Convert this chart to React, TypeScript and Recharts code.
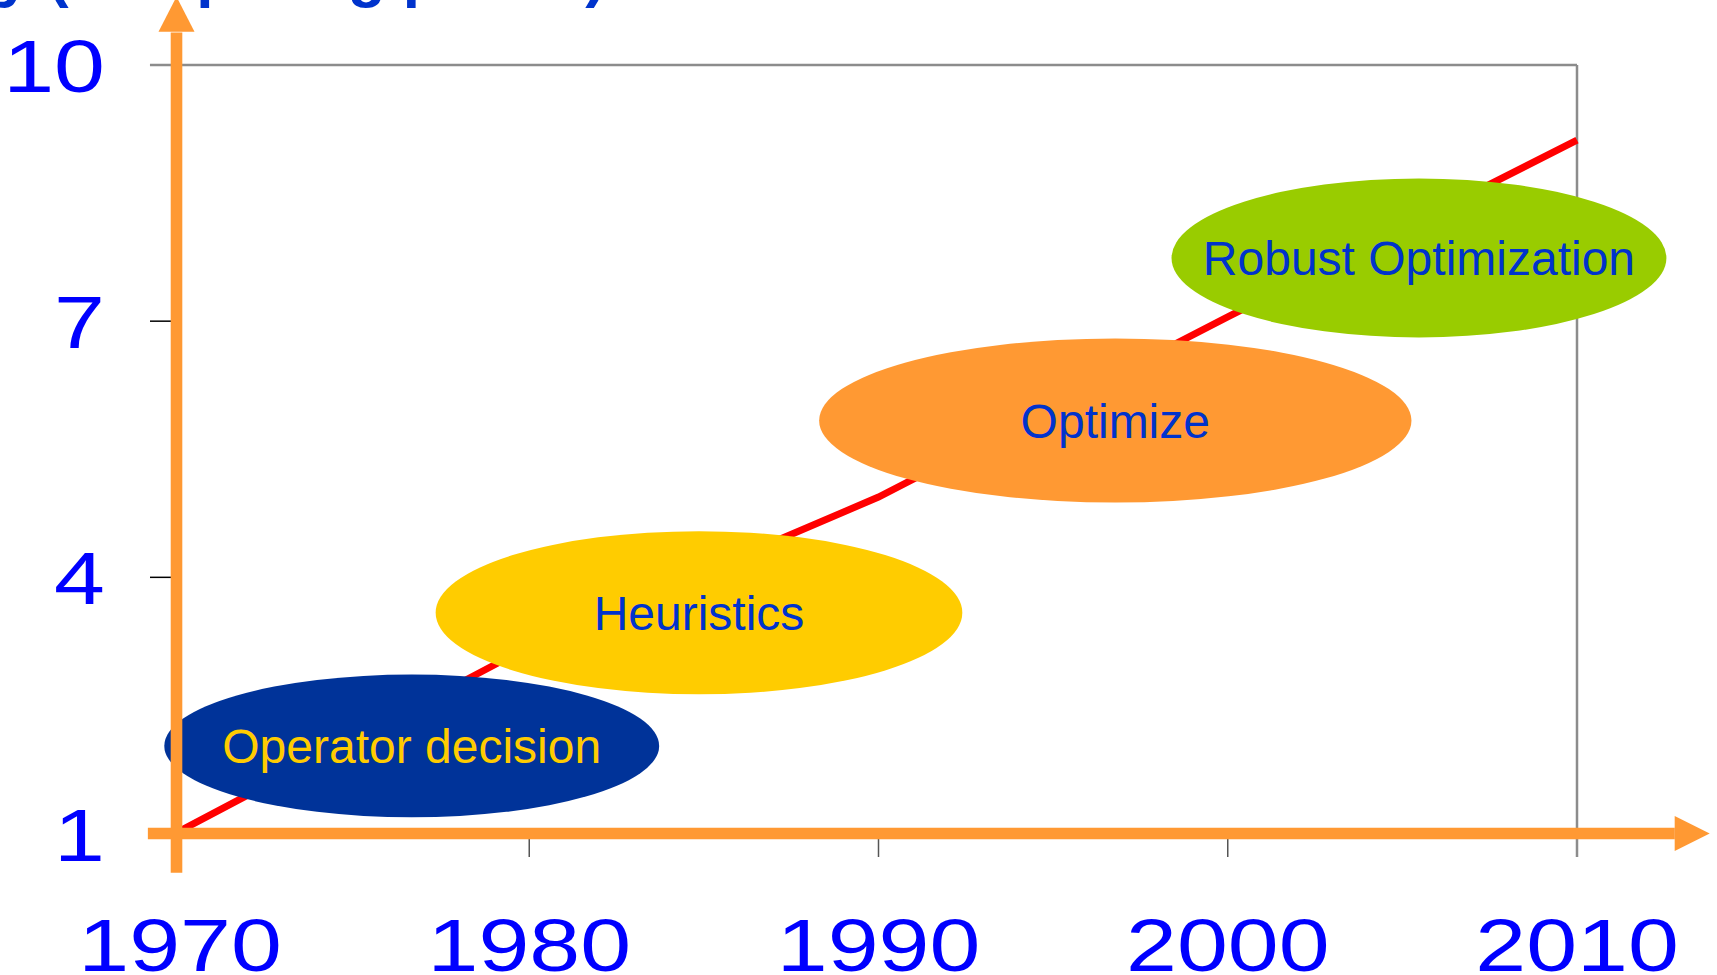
import React from "react";
import {
  LineChart,
  Line,
  XAxis,
  YAxis,
  ReferenceLine,
  ReferenceArea,
  ReferenceDot,
} from "recharts";

// ─── Data ─────────────────────────────────────────────────────────────────────

const years = [1970, 1980, 1990, 2000, 2010];
const capability = [1.03, 3.19, 4.94, 7.05, 9.12];
const yTicks = [1, 4, 7, 10];
const xTicks = [1970, 1980, 1990, 2000, 2010];

// decision-making phases: period (years) and span on the value axis
const phaseNames = ["Operator decision", "Heuristics", "Optimize", "Robust Optimization"];
const phaseFrom = [1969.55, 1977.32, 1988.3, 1998.39];
const phaseTo = [1983.72, 1992.4, 2005.26, 2012.56];
const phaseLow = [1.19, 2.63, 4.875, 6.81];
const phaseHigh = [2.862, 4.541, 6.798, 8.671];
const phaseFill = ["#003399", "#FFCC00", "#FF9933", "#99CC00"];
const phaseText = ["#FFCC00", "#0033CC", "#0033CC", "#0033CC"];

const chartData = years.map((year, i) => ({ year, value: capability[i] }));

const FONT = "'Liberation Sans', Arial, Helvetica, sans-serif";
const ORANGE = "#FF9933";
const FRAME = "#8c8c8c";

// ─── Ticks ────────────────────────────────────────────────────────────────────

function XTick({ x, y, payload }: any) {
  return (
    <text
      transform={`translate(${x},${y + 53}) scale(1.22,1)`}
      textAnchor="middle"
      fontSize={75}
      fontFamily={FONT}
      fill="#0000FF"
    >
      {payload.value}
    </text>
  );
}

function YTick({ x, y, payload }: any) {
  return (
    <text
      transform={`translate(${x},${y + 27}) scale(1.22,1)`}
      textAnchor="end"
      fontSize={75}
      fontFamily={FONT}
      fill="#0000FF"
    >
      {payload.value}
    </text>
  );
}

// axis title, mostly above the top edge as in the source slide
function TitleLabel() {
  return (
    <text
      x={606}
      y={-5}
      textAnchor="end"
      fontSize={62}
      fontWeight="bold"
      fontFamily={FONT}
      fill="#0033CC"
    >
      Capability (computing power)
    </text>
  );
}

// ─── Shapes ───────────────────────────────────────────────────────────────────

function phaseShape(i: number) {
  return (props: any) => {
    const { x, y, width, height } = props;
    const cx = x + width / 2;
    const cy = y + height / 2;
    return (
      <g>
        <ellipse cx={cx} cy={cy} rx={width / 2} ry={height / 2} fill={phaseFill[i]} />
        <text
          x={cx}
          y={cy + 17.5}
          textAnchor="middle"
          fontSize={48}
          fontFamily={FONT}
          fill={phaseText[i]}
        >
          {phaseNames[i]}
        </text>
      </g>
    );
  };
}

const arrowRight = (p: any) => (
  <polygon
    points={`${p.cx},${p.cy} ${p.cx - 35},${p.cy - 17.5} ${p.cx - 35},${p.cy + 17.5}`}
    fill={ORANGE}
  />
);

const arrowUp = (p: any) => (
  <polygon
    points={`${p.cx},${p.cy} ${p.cx - 18},${p.cy + 35} ${p.cx + 18},${p.cy + 35}`}
    fill={ORANGE}
  />
);

// ─── Chart ────────────────────────────────────────────────────────────────────

export default function App() {
  return (
    <div style={{ position: "absolute", left: 0, top: 0, background: "#fff" }}>
      <LineChart
        width={1717}
        height={975}
        data={chartData}
        margin={{ top: 65, right: 140, bottom: 0, left: 0 }}
      >
        <XAxis
          dataKey="year"
          type="number"
          domain={[1970, 2010]}
          ticks={xTicks}
          height={141.5}
          axisLine={false}
          tickSize={23.5}
          tickMargin={61}
          tickLine={{ stroke: "#555", strokeWidth: 1.5 }}
          tick={<XTick />}
        />
        <YAxis
          type="number"
          domain={[1, 10]}
          ticks={yTicks}
          width={180}
          axisLine={false}
          tickSize={30}
          tickMargin={45}
          tickLine={{ stroke: "#000", strokeWidth: 1.5 }}
          tick={<YTick />}
          label={<TitleLabel />}
        />

        {/* grey frame: top and right */}
        <ReferenceLine
          segment={[{ x: 1969.14, y: 10 }, { x: 2010, y: 10 }]}
          stroke={FRAME}
          strokeWidth={2.5}
          ifOverflow="visible"
          zIndex={520}
        />
        <ReferenceLine
          segment={[{ x: 2010, y: 10 }, { x: 2010, y: 0.725 }]}
          stroke={FRAME}
          strokeWidth={2.5}
          ifOverflow="visible"
          zIndex={520}
        />

        <Line
          type="linear"
          dataKey="value"
          stroke="#FF0000"
          strokeWidth={7}
          dot={false}
          activeDot={false}
          isAnimationActive={false}
          zIndex={550}
        />

        {phaseNames.map((name, i) => (
          <ReferenceArea
            key={name}
            x1={phaseFrom[i]}
            x2={phaseTo[i]}
            y1={phaseLow[i]}
            y2={phaseHigh[i]}
            ifOverflow="visible"
            shape={phaseShape(i)}
            zIndex={700}
          />
        ))}

        {/* orange axes with arrowheads */}
        <ReferenceLine
          segment={[{ x: 1969.08, y: 1 }, { x: 2012.8, y: 1 }]}
          stroke={ORANGE}
          strokeWidth={11.6}
          ifOverflow="visible"
          zIndex={800}
        />
        <ReferenceLine
          segment={[{ x: 1969.9, y: 0.54 }, { x: 1969.9, y: 10.38 }]}
          stroke={ORANGE}
          strokeWidth={11.6}
          ifOverflow="visible"
          zIndex={800}
        />
        <ReferenceDot x={2013.8} y={1} ifOverflow="visible" shape={arrowRight} zIndex={800} />
        <ReferenceDot x={1969.9} y={10.8} ifOverflow="visible" shape={arrowUp} zIndex={800} />
      </LineChart>
    </div>
  );
}
